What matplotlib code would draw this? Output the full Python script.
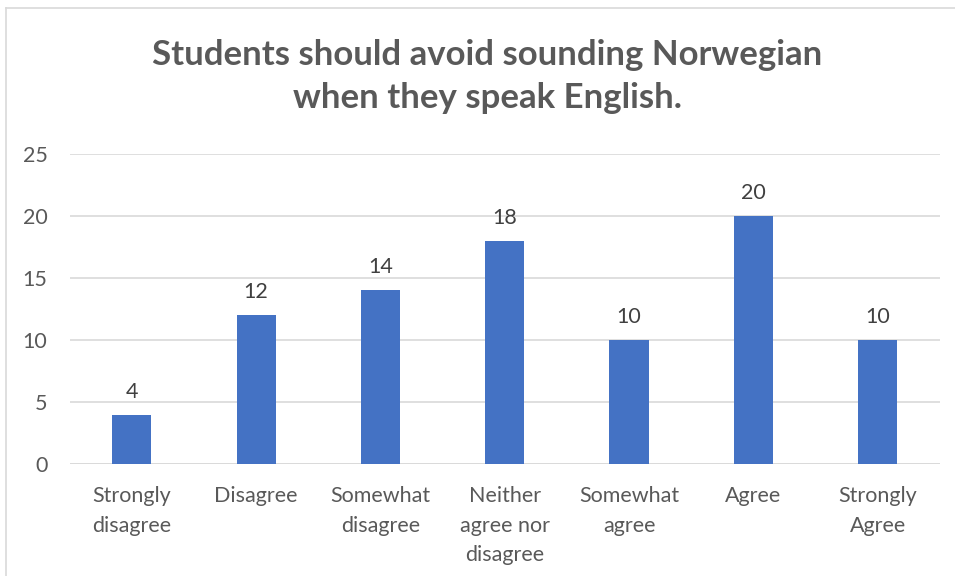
import matplotlib.pyplot as plt
from matplotlib.lines import Line2D

categories = ["Strongly\ndisagree", "Disagree", "Somewhat\ndisagree",
              "Neither\nagree nor\ndisagree", "Somewhat\nagree", "Agree",
              "Strongly\nAgree"]
counts = [4, 12, 14, 18, 10, 20, 10]
yticks = [0, 5, 10, 15, 20, 25]
title = "Students should avoid sounding Norwegian\nwhen they speak English."

plt.rcParams['font.family'] = ['Lato', 'DejaVu Sans']

fig = plt.figure(figsize=(9.55, 5.76), dpi=100)
ax = fig.add_axes([0.073, 0.194, 0.911, 0.539])

x = range(len(categories))
bars = ax.bar(x, counts, width=0.315, color='#4472C4', zorder=3)
for b, v in zip(bars, counts):
    ax.text(b.get_x() + b.get_width() / 2, v + 1.05, str(v), ha='center',
            va='bottom', fontsize=15.5, color='#404040')

ax.set_xlim(-0.5, len(categories) - 0.5)
ax.set_ylim(0, 25)
ax.set_yticks(yticks)
ax.set_xticks(list(x))
ax.set_xticklabels(categories, fontsize=15.5, color='#595959', linespacing=1.57)
ax.tick_params(axis='y', labelsize=15.5, labelcolor='#595959', length=0, pad=16)
ax.tick_params(axis='x', length=0, pad=16)
ax.grid(axis='y', color='#d9d9d9', linewidth=1.2, zorder=0)
for s in ax.spines.values():
    s.set_visible(False)
ax.axhline(0, color='#d9d9d9', linewidth=1.2, zorder=2)

fig.text(0.510, 0.933, title, ha='center', va='top', fontsize=25,
         fontweight='bold', color='#595959', linespacing=1.42)

# chart border (left and top edges visible)
fig.add_artist(Line2D([6 / 955, 6 / 955], [0, 1 - 8 / 576], color='#d9d9d9',
                      linewidth=1.2, transform=fig.transFigure))
fig.add_artist(Line2D([6 / 955, 1], [1 - 8 / 576, 1 - 8 / 576], color='#d9d9d9',
                      linewidth=1.2, transform=fig.transFigure))

fig.savefig('out.png', dpi=100)
